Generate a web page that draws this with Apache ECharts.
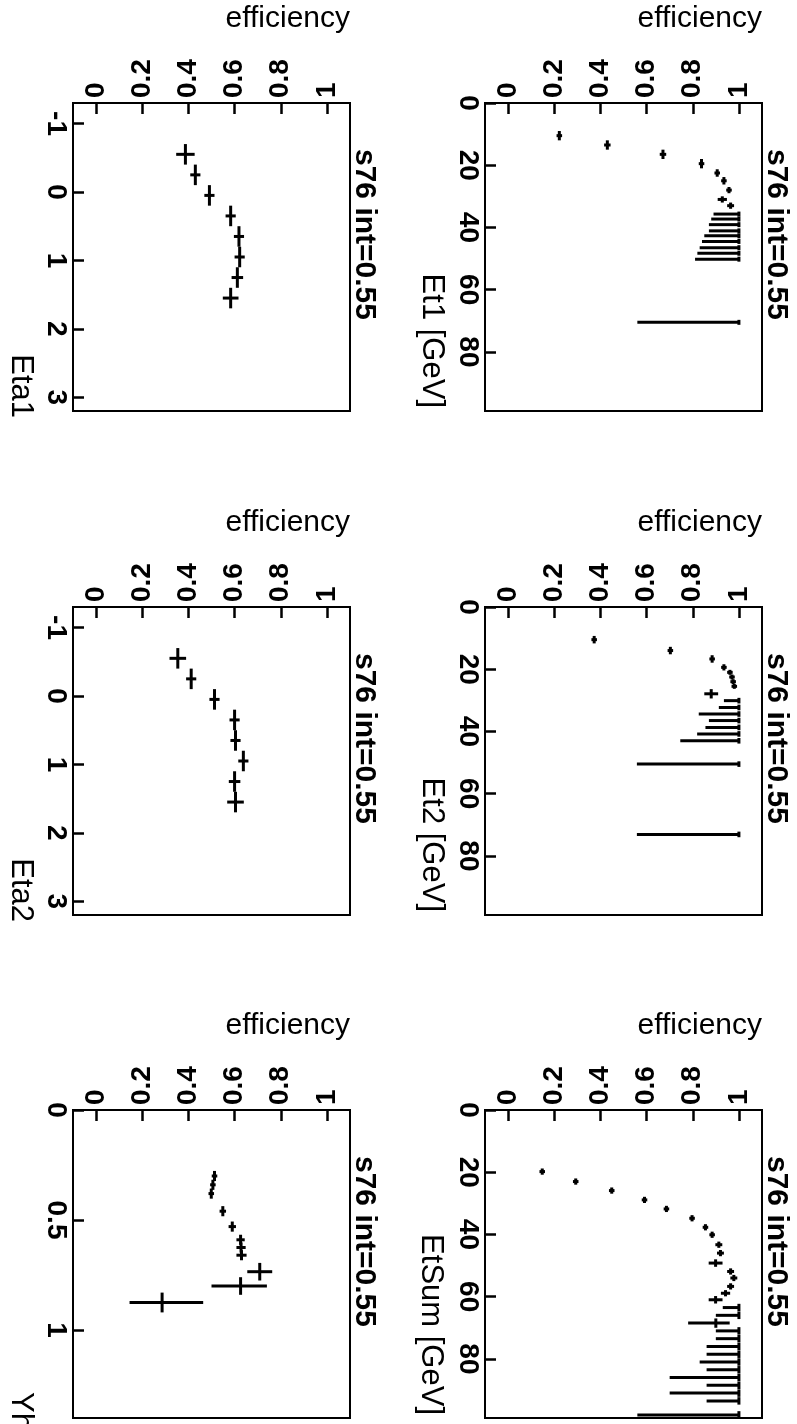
<!DOCTYPE html>
<html>
<head>
<meta charset="utf-8">
<script src="https://cdn.jsdelivr.net/npm/echarts@6/dist/echarts.min.js"></script>
<style>
html,body{margin:0;padding:0;background:#fff;}
#c{width:797px;height:1424px;}
</style>
</head>
<body>
<div id="c"></div>
<script>
// ---------- data ----------
const effTicks = [0, 0.2, 0.4, 0.6, 0.8, 1];
const etTicks = [0, 20, 40, 60, 80];
const etaTicks = [-1, 0, 1, 2, 3];
const yhTicks = [0, 0.5, 1];
const panelTitle = "s76 int=0.55";
const yTitle = "efficiency";

// Et1
const et1X    = [10.5, 13.5, 16.5, 19.5, 22.5, 25, 28, 31, 33, 35.7, 37.3, 39.1, 41.1, 42.7, 44.5, 46.5, 48.3, 50.2, 70.5];
const et1Half = [1.5, 1.5, 1.5, 1.5, 1.2, 1.2, 1, 1, 1, 0.8, 0.8, 0.8, 0.8, 0.8, 0.8, 0.8, 0.8, 0.8, 0.8];
const et1Eff  = [0.222, 0.430, 0.671, 0.838, 0.906, 0.935, 0.957, 0.928, 0.964, 1, 1, 1, 1, 1, 1, 1, 1, 1, 1];
const et1Lo   = [0.012, 0.014, 0.014, 0.012, 0.012, 0.012, 0.012, 0.02, 0.015, 0.11, 0.12, 0.13, 0.13, 0.15, 0.16, 0.17, 0.18, 0.19, 0.44];
const et1Hi   = [0.012, 0.014, 0.014, 0.012, 0.012, 0.012, 0.012, 0.02, 0.015, 0, 0, 0, 0, 0, 0, 0, 0, 0, 0];

// Et2
const et2X    = [10.5, 14, 16.7, 19.4, 21, 22.5, 24, 25.5, 27.9, 30.1, 32.3, 34.4, 36.5, 38.7, 40.8, 43, 50.5, 73.1];
const et2Half = [1.2, 1.2, 1.2, 1, 0.8, 0.8, 0.8, 0.8, 1.5, 0.9, 0.9, 0.9, 0.9, 0.9, 0.9, 0.9, 0.9, 0.9];
const et2Eff  = [0.373, 0.703, 0.884, 0.935, 0.961, 0.97, 0.975, 0.98, 0.88, 1, 1, 1, 1, 1, 1, 1, 1, 1];
const et2Lo   = [0.012, 0.012, 0.012, 0.012, 0.012, 0.012, 0.012, 0.012, 0.03, 0.065, 0.087, 0.174, 0.13, 0.145, 0.181, 0.254, 0.442, 0.442];
const et2Hi   = [0.012, 0.012, 0.012, 0.012, 0.012, 0.012, 0.012, 0.012, 0.03, 0, 0, 0, 0, 0, 0, 0, 0, 0];

// EtSum
const etsX    = [19.8, 23, 25.9, 28.9, 31.8, 34.8, 37.7, 40.1, 43.3, 46, 49.2, 51.9, 54, 56.7, 58.9, 61, 63.5, 66, 68.5, 71, 73.5, 76, 78.5, 81, 83.5, 86, 88.5, 91, 93.5, 98];
const etsHalf = [1, 1, 1, 1, 1, 1, 1, 1, 1, 1, 1.2, 1, 1, 1, 1, 1.2, 1.2, 1.2, 1.5, 1.2, 1.2, 1.2, 1.2, 1.2, 1.2, 1.2, 1.2, 1.2, 1.2, 1.2];
const etsEff  = [0.148, 0.293, 0.449, 0.591, 0.686, 0.797, 0.855, 0.884, 0.913, 0.920, 0.899, 0.964, 0.978, 0.964, 0.942, 0.899, 1, 1, 0.9, 1, 1, 1, 1, 1, 1, 1, 1, 1, 1, 1];
const etsLo   = [0.012, 0.012, 0.012, 0.012, 0.012, 0.012, 0.012, 0.012, 0.015, 0.015, 0.03, 0.015, 0.015, 0.015, 0.02, 0.03, 0.07, 0.1, 0.12, 0.1, 0.1, 0.14, 0.14, 0.17, 0.14, 0.3, 0.14, 0.3, 0.14, 0.44];
const etsHi   = [0.012, 0.012, 0.012, 0.012, 0.012, 0.012, 0.012, 0.012, 0.015, 0.015, 0.03, 0.015, 0.015, 0.015, 0.02, 0.03, 0, 0, 0.06, 0, 0, 0, 0, 0, 0, 0, 0, 0, 0, 0];

// Eta1
const eta1X    = [-0.55, -0.25, 0.05, 0.35, 0.65, 0.95, 1.25, 1.55];
const eta1Half = [0.15, 0.15, 0.15, 0.15, 0.15, 0.15, 0.15, 0.15];
const eta1Eff  = [0.387, 0.430, 0.491, 0.583, 0.619, 0.622, 0.612, 0.583];
const eta1Err  = [0.04, 0.022, 0.022, 0.022, 0.022, 0.022, 0.025, 0.034];

// Eta2
const eta2X    = [-0.55, -0.25, 0.05, 0.35, 0.65, 0.95, 1.25, 1.55];
const eta2Half = [0.15, 0.15, 0.15, 0.15, 0.15, 0.15, 0.15, 0.15];
const eta2Eff  = [0.354, 0.412, 0.513, 0.600, 0.604, 0.638, 0.600, 0.604];
const eta2Err  = [0.036, 0.022, 0.022, 0.022, 0.022, 0.022, 0.025, 0.036];

// Yh
const yhX    = [0.30, 0.34, 0.38, 0.46, 0.53, 0.59, 0.625, 0.66, 0.735, 0.80, 0.875];
const yhHalf = [0.023, 0.023, 0.023, 0.023, 0.023, 0.023, 0.023, 0.023, 0.04, 0.04, 0.045];
const yhEff  = [0.513, 0.506, 0.499, 0.549, 0.590, 0.626, 0.628, 0.630, 0.709, 0.626, 0.286];
const yhLo   = [0.012, 0.012, 0.012, 0.014, 0.016, 0.018, 0.02, 0.022, 0.054, 0.126, 0.141];
const yhHi   = [0.012, 0.012, 0.012, 0.014, 0.016, 0.018, 0.02, 0.022, 0.054, 0.114, 0.178];

// ---------- layout ----------
const FONT = "'Liberation Sans', Arial, Helvetica, sans-serif";
const boxW = 277, boxH = 308;
const panels = [
  {left: 485, top: 103, x: et1X, half: et1Half, eff: et1Eff, lo: et1Lo, hi: et1Hi, min: 0, max: 99, ticks: etTicks, name: "Et1 [GeV]", nameX: 432, nameEnd: 408},
  {left: 73,  top: 103, x: eta1X, half: eta1Half, eff: eta1Eff, lo: eta1Err, hi: eta1Err, min: -1.3, max: 3.2, ticks: etaTicks, name: "Eta1", nameX: 21, nameEnd: 418},
  {left: 485, top: 607, x: et2X, half: et2Half, eff: et2Eff, lo: et2Lo, hi: et2Hi, min: 0, max: 99, ticks: etTicks, name: "Et2 [GeV]", nameX: 432, nameEnd: 912},
  {left: 73,  top: 607, x: eta2X, half: eta2Half, eff: eta2Eff, lo: eta2Err, hi: eta2Err, min: -1.3, max: 3.2, ticks: etaTicks, name: "Eta2", nameX: 21, nameEnd: 922},
  {left: 485, top: 1110, x: etsX, half: etsHalf, eff: etsEff, lo: etsLo, hi: etsHi, min: 0, max: 99, ticks: etTicks, name: "EtSum [GeV]", nameX: 431, nameEnd: 1415},
  {left: 73,  top: 1110, x: yhX, half: yhHalf, eff: yhEff, lo: yhLo, hi: yhHi, min: 0, max: 1.4, ticks: yhTicks, name: "Yh", nameX: 21, nameEnd: 1430}
];

const grid = [], xAxis = [], yAxis = [], series = [], graphic = [];
panels.forEach((p, i) => {
  grid.push({left: p.left, top: p.top, width: boxW, height: boxH, show: true,
    borderColor: '#000', borderWidth: 2, backgroundColor: 'transparent', z: 0});
  xAxis.push({type: 'value', gridIndex: i, position: 'top', min: -0.1, max: 1.1, z: 10,
    axisLine: {show: true, onZero: false, lineStyle: {color: '#000', width: 2}}, splitLine: {show: false},
    axisTick: {show: true, inside: true, length: 11, customValues: effTicks, lineStyle: {color: '#000', width: 2.5}},
    axisLabel: {show: true, rotate: -90, margin: 5, customValues: effTicks, color: '#000',
      fontFamily: FONT, fontWeight: 'bold', fontSize: 28, formatter: v => String(v)}});
  yAxis.push({type: 'value', gridIndex: i, position: 'left', inverse: true, min: p.min, max: p.max, z: 10,
    axisLine: {show: true, onZero: false, lineStyle: {color: '#000', width: 2}}, splitLine: {show: false},
    axisTick: {show: true, inside: true, length: 11, customValues: p.ticks, lineStyle: {color: '#000', width: 2.5}},
    axisLabel: {show: true, rotate: -90, margin: 3, customValues: p.ticks, color: '#000',
      fontFamily: FONT, fontWeight: 'bold', fontSize: 28, formatter: v => String(v)}});
  const data = p.eff.map((e, k) => [e, p.x[k], e - p.lo[k], e + p.hi[k], p.x[k] - p.half[k], p.x[k] + p.half[k]]);
  series.push({type: 'custom', xAxisIndex: i, yAxisIndex: i, data: data, silent: true,
    encode: {x: [0, 2, 3], y: [1, 4, 5]},
    renderItem: function (params, api) {
      const e = api.value(0), v = api.value(1);
      const a = api.coord([api.value(2), v]), b = api.coord([api.value(3), v]);
      const c = api.coord([e, api.value(4)]), d = api.coord([e, api.value(5)]);
      const st = {stroke: '#000', lineWidth: 3, lineCap: 'butt'};
      return {type: 'group', children: [
        {type: 'line', shape: {x1: a[0], y1: a[1], x2: b[0], y2: b[1]}, style: st},
        {type: 'line', shape: {x1: c[0], y1: c[1], x2: d[0], y2: d[1]}, style: st}
      ]};
    }});
  const right = p.left + boxW;
  graphic.push({type: 'text', x: right, y: p.top - 84, silent: true,
    style: {text: yTitle, font: "normal 30px " + FONT, fill: '#000', align: 'right', verticalAlign: 'middle'}});
  graphic.push({type: 'text', x: right + 14, y: p.top + 46, rotation: -Math.PI / 2, silent: true,
    style: {text: panelTitle, font: "bold 30px " + FONT, fill: '#000', align: 'left', verticalAlign: 'middle'}});
  graphic.push({type: 'text', x: p.nameX, y: p.nameEnd, rotation: -Math.PI / 2, silent: true,
    style: {text: p.name, font: "normal 31px " + FONT, fill: '#000', align: 'right', verticalAlign: 'middle'}});
});

const chart = echarts.init(document.getElementById('c'), null, {renderer: 'canvas'});
chart.setOption({animation: false, backgroundColor: '#fff', grid, xAxis, yAxis, series, graphic});
</script>
</body>
</html>
